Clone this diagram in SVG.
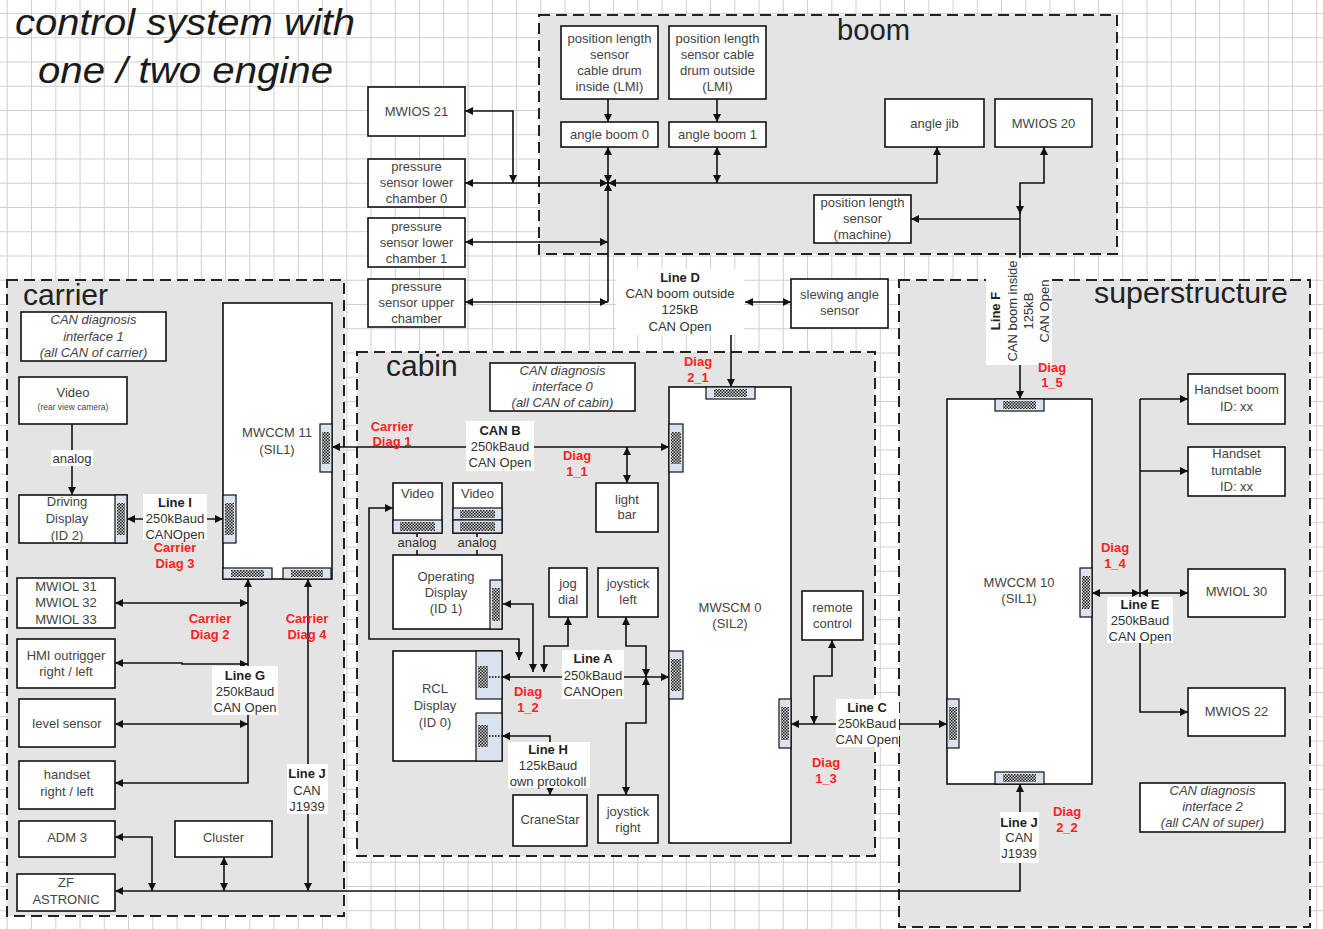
<svg xmlns="http://www.w3.org/2000/svg" width="1323" height="929" viewBox="0 0 1323 929">
<defs>
<pattern id="grid" x="6.8" y="13" width="24.25" height="24.25" patternUnits="userSpaceOnUse">
<path d="M0 0.5H24.25M0.5 0V24.25" stroke="#cfcfcf" stroke-width="1" fill="none"/>
</pattern>
<pattern id="hatch" width="3" height="3" patternUnits="userSpaceOnUse">
<rect width="3" height="3" fill="#d0d0d0"/>
<rect width="1.5" height="1.5" fill="#222"/>
<rect x="1.5" y="1.5" width="1.5" height="1.5" fill="#222"/>
</pattern>
<marker id="ar" viewBox="0 0 10 10" refX="10" refY="5" markerWidth="9" markerHeight="8" markerUnits="userSpaceOnUse" orient="auto-start-reverse">
<path d="M0,0L10,5L0,10z" fill="#111"/>
</marker>
<style>
.area{fill:#e4e4e4;stroke:#222;stroke-width:2;stroke-dasharray:11 6}
.bx{fill:#fff;stroke:#111;stroke-width:1.6}
.cn{fill:#dbe3f0;stroke:#111;stroke-width:1.2}
.ht{fill:url(#hatch)}
.t{font-family:"Liberation Sans",Arial,sans-serif;font-size:13px;fill:#444;text-anchor:middle}
.it{font-style:italic}
.sm{font-size:8.5px}
.lb{font-family:"Liberation Sans",Arial,sans-serif;font-size:13px;fill:#333;text-anchor:middle}
.hd{font-weight:bold;fill:#222}
.rd{font-family:"Liberation Sans",Arial,sans-serif;font-size:13px;font-weight:bold;fill:#f22;text-anchor:middle}
.big{font-family:"Liberation Sans",Arial,sans-serif;font-size:30px;fill:#222}
.ttl{font-family:"Liberation Sans",Arial,sans-serif;font-size:36px;font-style:italic;fill:#1a1a1a}
.w{fill:none;stroke:#111;stroke-width:1.6}
.ab{marker-start:url(#ar);marker-end:url(#ar)}
.ae{marker-end:url(#ar)}
.bg{fill:#fff}
</style>
</defs>
<rect width="1323" height="929" fill="#fff"/>
<rect width="1323" height="929" fill="url(#grid)"/>

<g id="title">
<text class="ttl" x="15" y="35" textLength="340" lengthAdjust="spacingAndGlyphs">control system with</text>
<text class="ttl" x="38" y="83" textLength="295" lengthAdjust="spacingAndGlyphs">one / two engine</text>
</g>

<g id="areas">
<rect class="area" x="539" y="15" width="578" height="239"/>
<text class="big" x="837" y="40" textLength="73" lengthAdjust="spacingAndGlyphs">boom</text>
<rect class="area" x="7" y="280" width="337" height="636"/>
<text class="big" x="23" y="305">carrier</text>
<rect class="area" x="899" y="280" width="411" height="647"/>
<text class="big" x="1094" y="303" textLength="194" lengthAdjust="spacingAndGlyphs">superstructure</text>
<rect class="area" x="357" y="352" width="518" height="504"/>
<text class="big" x="386" y="376">cabin</text>
</g>

<g id="connectors">
<!-- boom -->
<path class="w ab" d="M465,111H513V183"/>
<path class="w ab" d="M465,183H608"/>
<path class="w ab" d="M937,147V183H608"/>
<path class="w ab" d="M608,147V183"/>
<path class="w ab" d="M717,147V183"/>
<path class="w ae" d="M608,302V183"/>
<path class="w ab" d="M465,242H608"/>
<path class="w ab" d="M465,302H608"/>
<path class="w ae" d="M608,99V122"/>
<path class="w ae" d="M717,99V122"/>
<path class="w ab" d="M745,302H791"/>
<path class="w ae" d="M731,335V387"/>
<path class="w ae" d="M1020,258V183H1044V147"/>
<path class="w ae" d="M1020,200V214"/>
<path class="w ae" d="M1020,219H911"/>
<path class="w ae" d="M1020,365V399"/>
<!-- carrier -->
<path class="w ae" d="M72,424V495"/>
<path class="w ab" d="M127,519H223"/>
<path class="w ab" d="M332,447H669"/>
<path class="w ab" d="M248,579V783H115"/>
<path class="w ab" d="M115,603H248"/>
<path class="w ab" d="M115,663H182V664H248"/>
<path class="w ab" d="M115,724H248"/>
<path class="w ab" d="M308,579V891"/>
<path class="w ae" d="M1020,863V891H115"/>
<path class="w ab" d="M115,837H152V891"/>
<path class="w ab" d="M224,857V891"/>
<!-- cabin -->
<path class="w ab" d="M627,447V483"/>
<path class="w ab" d="M519,660V639H369V508H393"/>
<path class="w ab" d="M503,604H533V672"/>
<path class="w ab" d="M568,617V646H544V672"/>
<path class="w ab" d="M502,677H669"/>
<path class="w ab" d="M626,617V646H646V677"/>
<path class="w ab" d="M646,677V723H626V795"/>
<path class="w ab" d="M502,736H550V750"/>
<path class="w ae" d="M550,786V795"/>
<path class="w ab" d="M791,724H947"/>
<path class="w ab" d="M814,724V676H832V640"/>
<path class="w" d="M417,533V537M417,550V555M477,533V537M477,550V555"/>
<!-- superstructure -->
<path class="w ab" d="M1092,593H1140"/>
<path class="w ab" d="M1140,593H1188"/>
<path class="w" d="M1140,399V597"/>
<path class="w ae" d="M1140,642V712H1188"/>
<path class="w ae" d="M1140,399H1188"/>
<path class="w ae" d="M1140,471H1188"/>
<path class="w ae" d="M1020,812V784"/>

<!-- line labels -->
<rect class="bg" x="616" y="269" width="128" height="66"/>
<text class="lb"><tspan class="hd" x="680" y="281.5">Line D</tspan><tspan x="680" y="298">CAN boom outside</tspan><tspan x="680" y="314">125kB</tspan><tspan x="680" y="330.5">CAN Open</tspan></text>

<rect class="bg" x="986" y="258" width="66" height="107"/>
<g transform="translate(1020,311) rotate(-90)">
<text class="lb"><tspan class="hd" x="0" y="-20.5">Line F</tspan><tspan x="0" y="-3.5">CAN boom inside</tspan><tspan x="0" y="12.5">125kB</tspan><tspan x="0" y="28.5">CAN Open</tspan></text>
</g>

<rect class="bg" x="466" y="421" width="68" height="50"/>
<text class="lb"><tspan class="hd" x="500" y="434.5">CAN B</tspan><tspan x="500" y="450.5">250kBaud</tspan><tspan x="500" y="467">CAN Open</tspan></text>

<rect class="bg" x="143" y="494" width="64" height="46"/>
<text class="lb"><tspan class="hd" x="175" y="506.5">Line I</tspan><tspan x="175" y="522.5">250kBaud</tspan><tspan x="175" y="539">CANOpen</tspan></text>

<rect class="bg" x="51" y="450" width="42" height="16"/>
<text class="lb" x="72" y="462.5">analog</text>

<rect class="bg" x="212" y="666" width="66" height="49"/>
<text class="lb"><tspan class="hd" x="245" y="679.5">Line G</tspan><tspan x="245" y="695.5">250kBaud</tspan><tspan x="245" y="711.5">CAN Open</tspan></text>

<rect class="bg" x="287" y="764" width="41" height="50"/>
<text class="lb"><tspan class="hd" x="307" y="777.5">Line J</tspan><tspan x="307" y="794.5">CAN</tspan><tspan x="307" y="811">J1939</tspan></text>

<rect class="bg" x="562" y="650" width="62" height="49"/>
<text class="lb"><tspan class="hd" x="593" y="662.5">Line A</tspan><tspan x="593" y="679.5">250kBaud</tspan><tspan x="593" y="695.5">CANOpen</tspan></text>

<rect class="bg" x="508" y="742" width="82" height="46"/>
<text class="lb"><tspan class="hd" x="548" y="753.5">Line H</tspan><tspan x="548" y="769.5">125kBaud</tspan><tspan x="548" y="786">own protokoll</tspan></text>

<rect class="bg" x="836" y="699" width="63" height="48"/>
<text class="lb"><tspan class="hd" x="867" y="711.5">Line C</tspan><tspan x="867" y="727.5">250kBaud</tspan><tspan x="867" y="743.5">CAN Open</tspan></text>

<rect class="bg" x="1107" y="597" width="66" height="46"/>
<text class="lb"><tspan class="hd" x="1140" y="608.5">Line E</tspan><tspan x="1140" y="624.5">250kBaud</tspan><tspan x="1140" y="640.5">CAN Open</tspan></text>

<rect class="bg" x="1000" y="812" width="39" height="51"/>
<text class="lb"><tspan class="hd" x="1019" y="826.5">Line J</tspan><tspan x="1019" y="841.5">CAN</tspan><tspan x="1019" y="857.5">J1939</tspan></text>

<text class="lb" x="417" y="546.5">analog</text>
<text class="lb" x="477" y="546.5">analog</text>

<!-- diag labels -->
<text class="rd"><tspan x="392" y="430.5">Carrier</tspan><tspan x="392" y="445.5">Diag 1</tspan></text>
<text class="rd"><tspan x="577" y="459.5">Diag</tspan><tspan x="577" y="475.5">1_1</tspan></text>
<text class="rd"><tspan x="698" y="365.5">Diag</tspan><tspan x="698" y="381.5">2_1</tspan></text>
<text class="rd"><tspan x="175" y="551.5">Carrier</tspan><tspan x="175" y="567.5">Diag 3</tspan></text>
<text class="rd"><tspan x="210" y="622.5">Carrier</tspan><tspan x="210" y="638.5">Diag 2</tspan></text>
<text class="rd"><tspan x="307" y="622.5">Carrier</tspan><tspan x="307" y="638.5">Diag 4</tspan></text>
<text class="rd"><tspan x="528" y="695.5">Diag</tspan><tspan x="528" y="711.5">1_2</tspan></text>
<text class="rd"><tspan x="826" y="766.5">Diag</tspan><tspan x="826" y="782.5">1_3</tspan></text>
<text class="rd"><tspan x="1052" y="371.5">Diag</tspan><tspan x="1052" y="386.5">1_5</tspan></text>
<text class="rd"><tspan x="1115" y="551.5">Diag</tspan><tspan x="1115" y="567.5">1_4</tspan></text>
<text class="rd"><tspan x="1067" y="815.5">Diag</tspan><tspan x="1067" y="831.5">2_2</tspan></text>
<text class="rd" x="417" y="564.5">2</text>
<text class="rd" x="477" y="564.5">1</text>
</g>

<!-- boom nodes -->
<g id="pls_inside"><rect class="bx" x="561" y="26" width="97" height="73"/>
<text class="t"><tspan x="609.5" y="42.5">position length</tspan><tspan x="609.5" y="58.5">sensor</tspan><tspan x="609.5" y="74.5">cable drum</tspan><tspan x="609.5" y="90.5">inside (LMI)</tspan></text></g>
<g id="pls_outside"><rect class="bx" x="669" y="26" width="97" height="73"/>
<text class="t"><tspan x="717.5" y="42.5">position length</tspan><tspan x="717.5" y="58.5">sensor cable</tspan><tspan x="717.5" y="74.5">drum outside</tspan><tspan x="717.5" y="90.5">(LMI)</tspan></text></g>
<g id="angle_boom0"><rect class="bx" x="561" y="122" width="97" height="25"/><text class="t" x="609.5" y="139">angle boom 0</text></g>
<g id="angle_boom1"><rect class="bx" x="669" y="122" width="97" height="25"/><text class="t" x="717.5" y="139">angle boom 1</text></g>
<g id="angle_jib"><rect class="bx" x="885" y="99" width="99" height="48"/><text class="t" x="934.5" y="127.5">angle jib</text></g>
<g id="mwios20"><rect class="bx" x="995" y="99" width="97" height="48"/><text class="t" x="1043.5" y="127.5">MWIOS 20</text></g>
<g id="pls_machine"><rect class="bx" x="814" y="195" width="97" height="48"/>
<text class="t"><tspan x="862.5" y="207">position length</tspan><tspan x="862.5" y="223">sensor</tspan><tspan x="862.5" y="239">(machine)</tspan></text></g>
<g id="mwios21"><rect class="bx" x="368" y="87" width="97" height="49"/><text class="t" x="416.5" y="115.5">MWIOS 21</text></g>
<g id="psl0"><rect class="bx" x="368" y="159" width="97" height="48"/>
<text class="t"><tspan x="416.5" y="170.5">pressure</tspan><tspan x="416.5" y="186.5">sensor lower</tspan><tspan x="416.5" y="203">chamber 0</tspan></text></g>
<g id="psl1"><rect class="bx" x="368" y="218" width="97" height="49"/>
<text class="t"><tspan x="416.5" y="230.5">pressure</tspan><tspan x="416.5" y="246.5">sensor lower</tspan><tspan x="416.5" y="262.5">chamber 1</tspan></text></g>
<g id="psu"><rect class="bx" x="368" y="279" width="97" height="48"/>
<text class="t"><tspan x="416.5" y="290.5">pressure</tspan><tspan x="416.5" y="306.5">sensor upper</tspan><tspan x="416.5" y="322.5">chamber</tspan></text></g>
<g id="slewing"><rect class="bx" x="791" y="279" width="97" height="49"/>
<text class="t"><tspan x="839.5" y="298.5">slewing angle</tspan><tspan x="839.5" y="315">sensor</tspan></text></g>

<!-- carrier nodes -->
<g id="diag1"><rect class="bx" x="21" y="312" width="145" height="49"/>
<text class="t it"><tspan x="93.5" y="324">CAN diagnosis</tspan><tspan x="93.5" y="340.5">interface 1</tspan><tspan x="93.5" y="356.5">(all CAN of carrier)</tspan></text></g>
<g id="video_rear"><rect class="bx" x="19" y="377" width="108" height="47"/>
<text class="t" x="73" y="396.5">Video</text><text class="t sm" x="73" y="410">(rear view camera)</text></g>
<g id="driving_display"><rect class="bx" x="19" y="495" width="108" height="48"/>
<rect class="cn" x="115" y="495" width="12" height="48"/><rect class="ht" x="117" y="503" width="8" height="32"/>
<text class="t"><tspan x="67" y="506">Driving</tspan><tspan x="67" y="522.5">Display</tspan><tspan x="67" y="539.5">(ID 2)</tspan></text></g>
<g id="mwccm11"><rect class="bx" x="223" y="303" width="109" height="276"/>
<rect class="cn" x="320" y="424" width="12" height="48"/><rect class="ht" x="322" y="432" width="8" height="32"/>
<rect class="cn" x="223" y="495" width="13" height="48"/><rect class="ht" x="225" y="503" width="9" height="32"/>
<rect class="cn" x="223" y="568" width="49" height="11"/><rect class="ht" x="231" y="570" width="33" height="7"/>
<rect class="cn" x="283" y="568" width="48" height="11"/><rect class="ht" x="291" y="570" width="32" height="7"/>
<text class="t"><tspan x="277" y="436.5">MWCCM 11</tspan><tspan x="277" y="453.5">(SIL1)</tspan></text></g>
<g id="mwiol31"><rect class="bx" x="17" y="578" width="98" height="50"/>
<text class="t"><tspan x="66" y="590.5">MWIOL 31</tspan><tspan x="66" y="607">MWIOL 32</tspan><tspan x="66" y="623.5">MWIOL 33</tspan></text></g>
<g id="hmi"><rect class="bx" x="17" y="639" width="98" height="49"/>
<text class="t"><tspan x="66" y="659.5">HMI outrigger</tspan><tspan x="66" y="675.5">right / left</tspan></text></g>
<g id="level"><rect class="bx" x="19" y="699" width="96" height="48"/><text class="t" x="67" y="727.5">level sensor</text></g>
<g id="handset"><rect class="bx" x="19" y="761" width="96" height="48"/>
<text class="t"><tspan x="67" y="778.5">handset</tspan><tspan x="67" y="795.5">right / left</tspan></text></g>
<g id="adm3"><rect class="bx" x="19" y="821" width="96" height="36"/><text class="t" x="67" y="841.5">ADM 3</text></g>
<g id="cluster"><rect class="bx" x="175" y="821" width="97" height="36"/><text class="t" x="223.5" y="841.5">Cluster</text></g>
<g id="zf"><rect class="bx" x="17" y="874" width="98" height="37"/>
<text class="t"><tspan x="66" y="886.5">ZF</tspan><tspan x="66" y="903.5">ASTRONIC</tspan></text></g>

<!-- cabin nodes -->
<g id="diag0"><rect class="bx" x="490" y="363" width="145" height="48"/>
<text class="t it"><tspan x="562.5" y="374.5">CAN diagnosis</tspan><tspan x="562.5" y="390.5">interface 0</tspan><tspan x="562.5" y="406.5">(all CAN of cabin)</tspan></text></g>
<g id="lightbar"><rect class="bx" x="596" y="483" width="62" height="49"/>
<text class="t"><tspan x="627" y="503.5">light</tspan><tspan x="627" y="519">bar</tspan></text></g>
<g id="video1"><rect class="bx" x="393" y="483" width="49" height="50"/>
<rect class="cn" x="393" y="520" width="49" height="13"/><rect class="ht" x="400" y="522" width="35" height="9"/>
<text class="t" x="417.5" y="498">Video</text></g>
<g id="video2"><rect class="bx" x="453" y="483" width="49" height="50"/>
<rect class="cn" x="453" y="508" width="49" height="12"/><rect class="ht" x="460" y="510" width="35" height="8"/>
<rect class="cn" x="453" y="520" width="49" height="13"/><rect class="ht" x="460" y="522" width="35" height="9"/>
<text class="t" x="477.5" y="498">Video</text></g>
<g id="op_display"><rect class="bx" x="393" y="555" width="109" height="74"/>
<rect class="cn" x="490" y="580" width="12" height="49"/><rect class="ht" x="492" y="588" width="8" height="33"/>
<text class="t"><tspan x="446" y="581">Operating</tspan><tspan x="446" y="596.5">Display</tspan><tspan x="446" y="612.5">(ID 1)</tspan></text></g>
<g id="jogdial"><rect class="bx" x="549" y="568" width="38" height="49"/>
<text class="t"><tspan x="568" y="587.5">jog</tspan><tspan x="568" y="603.5">dial</tspan></text></g>
<g id="joystick_left"><rect class="bx" x="598" y="568" width="60" height="49"/>
<text class="t"><tspan x="628" y="587.5">joystick</tspan><tspan x="628" y="604">left</tspan></text></g>
<g id="rcl_display"><rect class="bx" x="393" y="651" width="109" height="110"/>
<rect class="cn" x="476" y="651" width="26" height="48"/><rect class="ht" x="478" y="666" width="10" height="22"/>
<path d="M489,677H502" stroke="#333" stroke-width="2" stroke-dasharray="1.5 1.5"/>
<rect class="cn" x="476" y="713" width="26" height="48"/><rect class="ht" x="478" y="725" width="10" height="22"/>
<path d="M489,736H502" stroke="#333" stroke-width="2" stroke-dasharray="1.5 1.5"/>
<text class="t"><tspan x="435" y="692.5">RCL</tspan><tspan x="435" y="709.5">Display</tspan><tspan x="435" y="726.5">(ID 0)</tspan></text></g>
<g id="cranestar"><rect class="bx" x="513" y="795" width="74" height="51"/><text class="t" x="550" y="824">CraneStar</text></g>
<g id="joystick_right"><rect class="bx" x="598" y="795" width="60" height="48"/>
<text class="t"><tspan x="628" y="816">joystick</tspan><tspan x="628" y="831.5">right</tspan></text></g>
<g id="mwscm0"><rect class="bx" x="669" y="387" width="122" height="456"/>
<rect class="cn" x="706" y="387" width="49" height="12"/><rect class="ht" x="714" y="389" width="33" height="8"/>
<rect class="cn" x="669" y="424" width="14" height="48"/><rect class="ht" x="671" y="432" width="10" height="32"/>
<rect class="cn" x="669" y="651" width="14" height="48"/><rect class="ht" x="671" y="659" width="10" height="32"/>
<rect class="cn" x="779" y="699" width="12" height="49"/><rect class="ht" x="781" y="707" width="8" height="33"/>
<text class="t"><tspan x="730" y="611.5">MWSCM 0</tspan><tspan x="730" y="627.5">(SIL2)</tspan></text></g>
<g id="remote"><rect class="bx" x="802" y="591" width="61" height="49"/>
<text class="t"><tspan x="832.5" y="611.5">remote</tspan><tspan x="832.5" y="627.5">control</tspan></text></g>

<!-- superstructure nodes -->
<g id="mwccm10"><rect class="bx" x="947" y="399" width="145" height="385"/>
<rect class="cn" x="995" y="399" width="49" height="12"/><rect class="ht" x="1003" y="401" width="33" height="8"/>
<rect class="cn" x="1080" y="568" width="12" height="49"/><rect class="ht" x="1082" y="576" width="8" height="33"/>
<rect class="cn" x="947" y="699" width="12" height="49"/><rect class="ht" x="949" y="707" width="8" height="33"/>
<rect class="cn" x="995" y="772" width="49" height="12"/><rect class="ht" x="1003" y="774" width="33" height="8"/>
<text class="t"><tspan x="1019" y="586.5">MWCCM 10</tspan><tspan x="1019" y="603">(SIL1)</tspan></text></g>
<g id="handset_boom"><rect class="bx" x="1188" y="374" width="97" height="50"/>
<text class="t"><tspan x="1236.5" y="394">Handset boom</tspan><tspan x="1236.5" y="410.5">ID: xx</tspan></text></g>
<g id="handset_turntable"><rect class="bx" x="1188" y="447" width="97" height="49"/>
<text class="t"><tspan x="1236.5" y="457.5">Handset</tspan><tspan x="1236.5" y="474.5">turntable</tspan><tspan x="1236.5" y="491">ID: xx</tspan></text></g>
<g id="mwiol30"><rect class="bx" x="1188" y="569" width="97" height="48"/><text class="t" x="1236.5" y="595.5">MWIOL 30</text></g>
<g id="mwios22"><rect class="bx" x="1188" y="688" width="97" height="48"/><text class="t" x="1236.5" y="715.5">MWIOS 22</text></g>
<g id="diag2"><rect class="bx" x="1140" y="783" width="145" height="49"/>
<text class="t it"><tspan x="1212.5" y="795">CAN diagnosis</tspan><tspan x="1212.5" y="811">interface 2</tspan><tspan x="1212.5" y="827">(all CAN of super)</tspan></text></g>
</svg>
